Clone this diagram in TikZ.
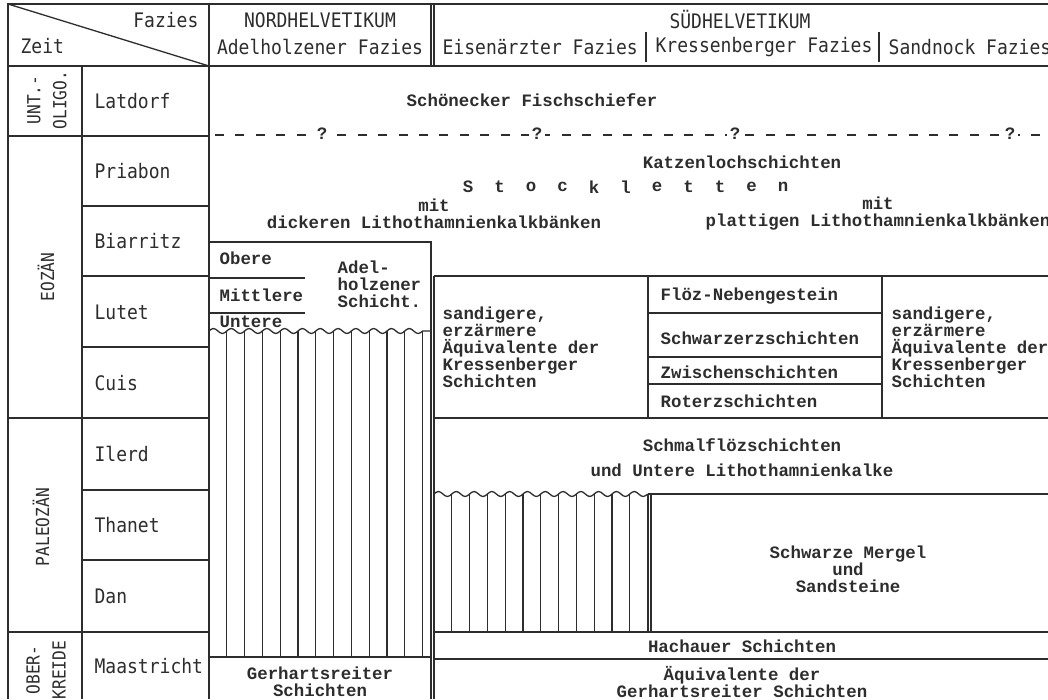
\documentclass[tikz,border=0pt]{standalone}
\usepackage{fontspec}
\newfontfamily\plotfont[FakeStretch=0.9]{DejaVu Sans Mono}
\newfontfamily\typefont{Liberation Mono}
\definecolor{ink}{RGB}{45,45,45}

\begin{document}
\begin{tikzpicture}[x=1pt, y=-1pt, line width=1.3pt, color=ink,
	every node/.style={inner sep=0pt},
	head/.style={font=\plotfont\fontsize{20}{22}\selectfont},
	stage/.style={font=\plotfont\fontsize{20}{22}\selectfont, anchor=west},
	era/.style={font=\plotfont\fontsize{18}{26}\selectfont, rotate=90, align=center},
	lith/.style={font=\typefont\bfseries\fontsize{17.4}{17}\selectfont, align=center},
	lithl/.style={lith, align=left, anchor=west}]
	\useasboundingbox (0,0) rectangle (1048,699);
	\clip (0,0) rectangle (1048,699);
	\fill[white] (0,0) rectangle (1048,699);
	% frame and time columns
	\draw (8,699) -- (8,4) -- (1048,4);
	\draw (8,66) -- (1048,66);
	\draw (8,4) -- (209,66);
	\draw (209,4) -- (209,699);
	\draw (431,4) -- (431,66);
	\draw (434,4) -- (434,66);
	\draw (646,32) -- (646,62);
	\draw (879,32) -- (879,62);
	\draw (82,66) -- (82,699);
	\foreach \y in {136,418,632}
		\draw (8,\y) -- (209,\y);
	\foreach \y in {206,276,347,490,560}
		\draw (82,\y) -- (209,\y);
	\node[head, anchor=east] (fazies) at (199,20) {Fazies};
	\node[head, anchor=west] (zeit) at (20,46) {Zeit};
	\node[head] (nord) at (320,20) {NORDHELVETIKUM};
	\node[head] (adelfaz) at (320,47) {Adelholzener Fazies};
	\node[head] (sued) at (740,20) {SÜDHELVETIKUM};
	\node[head, anchor=west] (eisen) at (442,47) {Eisenärzter Fazies};
	\node[head, anchor=west] (kress) at (655,47) {Kressenberger Fazies};
	\node[head, anchor=west] (sandn) at (888,47) {Sandnock Fazies};
	\foreach \st/\y in {Latdorf/101,Priabon/171,Biarritz/241,Lutet/312,Cuis/383,Ilerd/454,Thanet/525,Dan/596,Maastricht/666}
		\node[stage] (\st) at (94,\y) {\st};
	\node[era] (oligo) at (47,100) {UNT.-\\OLIGO.};
	\node[era] (eozaen) at (46,277) {EOZÄN};
	\node[era] (paleo) at (41,527) {PALEOZÄN};
	\node[era] (kreide) at (46,670) {OBER-\\KREIDE};
	% upper part
	\node[lith] (schoen) at (532,100) {Schönecker Fischschiefer};
	\draw[dash pattern=on 9pt off 11.4pt] (215,135) -- (1048,135);
	\foreach \x [count=\i] in {322,537,735,1010}
		\node[lith, fill=white, inner xsep=3pt] (q\i) at (\x,134) {?};
	\node[lith] (katzen) at (742,162) {Katzenlochschichten};
	\foreach \c [count=\i] in {S,t,o,c,k,l,e,t,t,e,n}
		\node[lith] (st\i) at ({468+31.5*(\i-1)},187) {\c};
	\node[lith] (dick) at (434,214) {mit\\dickeren Lithothamnienkalkbänken};
	\node[lith] (platt) at (878,214) {mit\\plattigen Lithothamnienkalkbänken};
	% Adelholzener Schichten
	\draw (209,242) -- (431,242) -- (431,699);
	\draw (209,278) -- (305,278);
	\draw (209,313) -- (305,313);
	\node[lithl] (obere) at (219,258) {Obere};
	\node[lithl] (mittl) at (219,295) {Mittlere};
	\node[lithl] (untere) at (219,322) {Untere};
	\node[lithl] (adel) at (337,284) {Adel-\\holzener\\Schicht.};
	\draw (209,331) foreach \i in {1,...,12} {sin ++(4.45,-2.5) cos ++(4.45,2.5) sin ++(4.45,2.5) cos ++(4.45,-2.5)} -- (431,331);
	\foreach \i in {1,...,12}
		\draw ({209+17.8*\i},331) -- ({209+17.8*\i},657);
	\draw (209,657) -- (431,657);
	\node[lith] (gerh) at (320,682) {Gerhartsreiter\\Schichten};
	% Suedhelvetikum
	\draw (434,276) -- (434,699);
	\draw (434,276) -- (1048,276);
	\draw (434,418) -- (1048,418);
	\draw (648,276) -- (648,418);
	\draw (882,276) -- (882,418);
	\foreach \y in {313,357,384}
		\draw (648,\y) -- (882,\y);
	\node[lithl] (sand1) at (442,347) {sandigere,\\erzärmere\\Äquivalente der\\Kressenberger\\Schichten};
	\node[lithl] (floez) at (660,296) {Flöz-Nebengestein};
	\node[lithl] (schwarz) at (660,338) {Schwarzerzschichten};
	\node[lithl] (zwisch) at (660,372) {Zwischenschichten};
	\node[lithl] (roterz) at (660,401) {Roterzschichten};
	\node[lithl] (sand2) at (891,347) {sandigere,\\erzärmere\\Äquivalente der\\Kressenberger\\Schichten};
	\node[lith] (schmal) at (742,445) {Schmalflözschichten};
	\node[lith] (untlith) at (742,470) {und Untere Lithothamnienkalke};
	\draw (434,494) foreach \i in {1,...,12} {sin ++(4.45,-2.5) cos ++(4.45,2.5) sin ++(4.45,2.5) cos ++(4.45,-2.5)};
	\foreach \i in {1,...,11}
		\draw ({434+17.8*\i},494) -- ({434+17.8*\i},632);
	\draw (648,494) -- (1048,494);
	\draw (648,494) -- (648,632);
	\draw (651,494) -- (651,632);
	\node[lith] (mergel) at (848,569) {Schwarze Mergel\\und\\Sandsteine};
	\draw (434,632) -- (1048,632);
	\draw (434,659) -- (1048,659);
	\node[lith] (hachau) at (742,646) {Hachauer Schichten};
	\node[lith] (aequi) at (742,682) {Äquivalente der\\Gerhartsreiter Schichten};
\end{tikzpicture}
\end{document}
